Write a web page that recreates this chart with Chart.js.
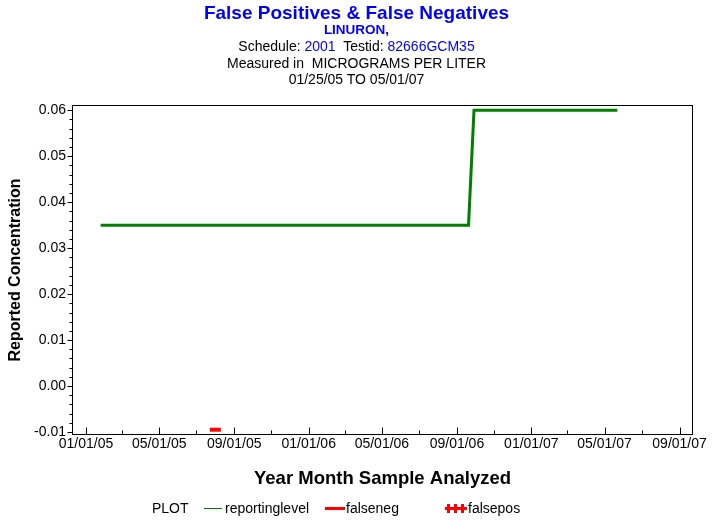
<!DOCTYPE html>
<html><head><meta charset="utf-8">
<script src="https://cdn.jsdelivr.net/npm/chart.js@4"></script>
<style>
body{margin:0;width:713px;height:523px;overflow:hidden;background:#fff;font-family:"Liberation Sans",Arial,sans-serif;position:relative}
canvas{position:absolute;left:0;top:0}
.t{position:absolute;left:0;width:713px;text-align:center;white-space:pre;color:#000;line-height:1}
.b{color:#0000ff}
#legend{position:absolute;top:500px;left:0;width:713px;height:16px;font-size:14px;line-height:16px;color:#000}
#legend span{position:absolute;white-space:pre}
.sw{position:absolute}
</style></head><body>
<canvas id="c" width="713" height="523"></canvas>
<div class="t b" style="top:3px;font-size:19px;font-weight:bold">False Positives &amp; False Negatives</div>
<div class="t b" style="top:23px;font-size:13.5px;font-weight:bold">LINURON,</div>
<div class="t" style="top:39px;font-size:14px">Schedule: <span class="b">2001</span>  Testid: <span class="b">82666GCM35</span></div>
<div class="t" style="top:56px;font-size:14px">Measured in  MICROGRAMS PER LITER</div>
<div class="t" style="top:72px;font-size:14px">01/25/05 TO 05/01/07</div>
<div id="legend">
  <span style="left:152px">PLOT</span>
  <div class="sw" style="left:204px;top:8px;width:18px;height:1px;background:#008000"></div>
  <span style="left:225px">reportinglevel</span>
  <div class="sw" style="left:325px;top:7px;width:20px;height:3px;background:#ff0000"></div>
  <span style="left:346px">falseneg</span>
  <div class="sw" style="left:445px;top:7px;width:22px;height:3px;background:#ff0000"></div>
  <div class="sw" style="left:447px;top:4px;width:3px;height:9px;background:#ff0000"></div>
  <div class="sw" style="left:454px;top:4px;width:3px;height:9px;background:#ff0000"></div>
  <div class="sw" style="left:461px;top:4px;width:3px;height:9px;background:#ff0000"></div>
  <span style="left:468px">falsepos</span>
</div>
<script>
// ---- data ----
const reportDates = ['01/25/05', '09/20/06', '09/29/06', '05/22/07'];
const reportValues = [0.035, 0.035, 0.06, 0.06];
const falseNegDates = ['08/01/05'];
const falseNegValues = [-0.0095];
const falsePosDates = [];
const falsePosValues = [];
const xTickLabels = ['01/01/05','05/01/05','09/01/05','01/01/06','05/01/06','09/01/06','01/01/07','05/01/07','09/01/07'];
const xMinorLabels = ['03/01/05','07/01/05','11/01/05','03/01/06','07/01/06','11/01/06','03/01/07','07/01/07'];
const yTickValues = [-0.01, 0.00, 0.01, 0.02, 0.03, 0.04, 0.05, 0.06];
const xRange = ['12/09/04', '09/23/07'];
const yRange = [-0.01065, 0.06115];

function dayNum(s){const [m,d,y]=s.split('/').map(Number);return Date.UTC(2000+y,m-1,d)/86400000;}
const xTicks = xTickLabels.map(dayNum);
const xMinor = xMinorLabels.map(dayNum);
const yMinor = [];
for (let i=0;i<yTickValues.length-1;i++){for(let k=1;k<5;k++){yMinor.push(yTickValues[i]+(yTickValues[i+1]-yTickValues[i])*k/5);}}

const framePlugin = {
  id:'frame',
  afterDraw(chart){
    const ctx=chart.ctx, a=chart.chartArea, xs=chart.scales.x, ys=chart.scales.y;
    ctx.save();
    ctx.strokeStyle='#000'; ctx.lineWidth=1;
    const L=Math.round(a.left)+0.5,R=Math.round(a.right)-0.5,T=Math.round(a.top)+0.5,B=Math.round(a.bottom)-0.5;
    ctx.strokeRect(L,T,R-L,B-T);
    ctx.beginPath();
    xTicks.forEach(v=>{const p=Math.round(xs.getPixelForValue(v))+0.5;ctx.moveTo(p,B);ctx.lineTo(p,B-7);});
    xMinor.forEach(v=>{const p=Math.round(xs.getPixelForValue(v))+0.5;ctx.moveTo(p,B);ctx.lineTo(p,B-4);});
    yTickValues.forEach(v=>{const p=Math.round(ys.getPixelForValue(v))+0.5;ctx.moveTo(L,p);ctx.lineTo(L-5,p);});
    yMinor.forEach(v=>{const p=Math.round(ys.getPixelForValue(v))+0.5;ctx.moveTo(L,p);ctx.lineTo(L-3,p);});
    ctx.stroke();
    ctx.restore();
  }
};

new Chart(document.getElementById('c'),{
  type:'line',
  data:{datasets:[
    {label:'reportinglevel',data:reportDates.map((d,i)=>({x:dayNum(d),y:reportValues[i]})),borderColor:'#008000',borderWidth:3,pointRadius:0,tension:0,fill:false},
    {label:'falseneg',data:falseNegDates.map((d,i)=>({x:dayNum(d),y:falseNegValues[i]})),showLine:false,pointStyle:'line',pointRadius:5.5,pointBorderWidth:4,borderColor:'#ff0000',backgroundColor:'#ff0000'},
    {label:'falsepos',data:falsePosDates.map((d,i)=>({x:dayNum(d),y:falsePosValues[i]})),showLine:false,pointStyle:'cross',pointRadius:5,pointBorderWidth:3,borderColor:'#ff0000'}
  ]},
  options:{
    responsive:false,animation:false,devicePixelRatio:1,
    layout:{padding:{top:105,right:20,left:0,bottom:0}},
    plugins:{legend:{display:false},tooltip:{enabled:false}},
    scales:{
      x:{type:'linear',min:dayNum(xRange[0]),max:dayNum(xRange[1]),
        afterBuildTicks:s=>{s.ticks=xTicks.map(v=>({value:v}));},
        afterFit:s=>{s.height=88;},
        ticks:{callback:(v,i)=>xTickLabels[i],autoSkip:false,maxRotation:0,color:'#000',font:{family:'"Liberation Sans",Arial',size:14},padding:1},
        grid:{display:false,drawTicks:false},border:{display:false},
        title:{display:true,text:'Year Month Sample Analyzed',color:'#000',font:{family:'"Liberation Sans",Arial',size:18.5,weight:'bold'},padding:{top:0,bottom:33}}
      },
      y:{type:'linear',min:yRange[0],max:yRange[1],
        afterBuildTicks:s=>{s.ticks=yTickValues.map(v=>({value:v}));},
        afterFit:s=>{s.width=72;},
        ticks:{callback:v=>v.toFixed(2),color:'#000',font:{family:'"Liberation Sans",Arial',size:14},padding:6},
        grid:{display:false,drawTicks:false},border:{display:false},
        title:{display:true,text:'Reported Concentration',color:'#000',font:{family:'"Liberation Sans",Arial',size:16,weight:'bold'},padding:{top:6,bottom:0}}
      }
    }
  },
  plugins:[framePlugin]
});
</script>
</body></html>
